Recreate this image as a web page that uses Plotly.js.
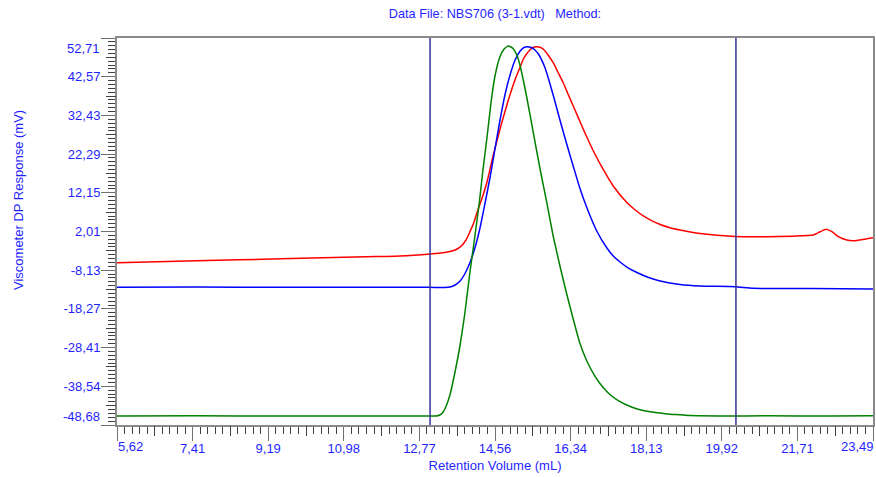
<!DOCTYPE html>
<html>
<head>
<meta charset="utf-8">
<script src="https://cdn.plot.ly/plotly-3.0.1.min.js"></script>
<style>html,body{margin:0;padding:0;background:#fff;}#chart{width:876px;height:477px;}</style>
</head>
<body>
<div id="chart"></div>
<script>
// ---- Data ----
const greenX = [5.62, 7.5, 9.5, 11.5, 13.0, 13.16, 13.25, 13.33, 13.41, 13.49, 13.61, 13.73, 13.84, 13.96, 14.08, 14.18, 14.27, 14.37, 14.46, 14.55, 14.67, 14.77, 14.87, 14.97, 15.08, 15.15, 15.30, 15.46, 15.62, 15.78, 15.93, 16.09, 16.25, 16.41, 16.56, 16.72, 16.92, 17.04, 17.16, 17.27, 17.51, 17.75, 17.98, 18.22, 18.62, 18.93, 19.17, 19.88, 21.0, 22.5, 23.49];
const greenY = [-46.30, -46.28, -46.32, -46.30, -46.32, -46.32, -46.06, -45.27, -43.44, -40.82, -34.79, -27.72, -19.60, -8.86, 0.84, 9.22, 18.13, 27.03, 35.68, 42.49, 47.73, 49.83, 50.61, 50.09, 47.99, 45.37, 37.51, 27.90, 18.39, 9.56, 0.84, -7.02, -14.36, -21.17, -27.20, -31.78, -35.95, -37.86, -39.43, -40.69, -42.58, -43.83, -44.67, -45.22, -45.77, -46.01, -46.22, -46.32, -46.28, -46.30, -46.28];

const blueX = [5.62, 7.5, 9.5, 11.5, 13.0, 13.37, 13.49, 13.61, 13.73, 13.84, 13.96, 14.08, 14.20, 14.32, 14.44, 14.55, 14.67, 14.79, 14.91, 15.03, 15.15, 15.24, 15.32, 15.41, 15.50, 15.58, 15.74, 15.93, 16.09, 16.25, 16.41, 16.56, 16.72, 16.96, 17.20, 17.35, 17.51, 17.70, 17.91, 18.17, 18.46, 18.93, 19.40, 20.23, 20.66, 22.0, 23.49];
const blueY = [-12.60, -12.55, -12.62, -12.58, -12.62, -12.66, -12.53, -12.00, -10.95, -9.12, -6.24, -2.31, 2.93, 9.48, 16.29, 23.37, 30.97, 37.78, 43.02, 46.95, 49.30, 50.22, 50.43, 50.22, 49.57, 48.52, 44.85, 37.78, 31.23, 24.94, 18.91, 13.41, 8.43, 2.15, -2.31, -4.40, -5.98, -7.50, -8.73, -9.98, -10.95, -11.87, -12.26, -12.45, -12.87, -12.95, -13.05];

const redX = [5.62, 7.5, 9.5, 11.5, 12.31, 13.02, 13.37, 13.54, 13.66, 13.77, 13.87, 13.96, 14.06, 14.15, 14.25, 14.36, 14.51, 14.67, 14.85, 15.03, 15.15, 15.22, 15.30, 15.38, 15.45, 15.54, 15.62, 15.70, 15.81, 15.93, 16.04, 16.17, 16.28, 16.41, 16.64, 16.88, 17.12, 17.35, 17.67, 17.87, 18.06, 18.22, 18.46, 18.69, 18.93, 19.40, 20.23, 20.98, 21.6, 22.08, 22.24, 22.38, 22.52, 22.67, 22.87, 23.03, 23.27, 23.49];
const redY = [-6.16, -5.66, -5.14, -4.60, -4.40, -3.88, -3.49, -3.09, -2.57, -1.65, -0.21, 1.88, 4.50, 7.65, 10.79, 14.72, 21.80, 28.74, 35.68, 41.84, 45.11, 47.08, 48.52, 49.57, 50.22, 50.43, 50.27, 49.75, 48.26, 46.24, 43.80, 40.92, 38.04, 34.76, 28.87, 23.11, 18.13, 13.94, 9.61, 7.65, 6.08, 5.08, 3.85, 3.01, 2.41, 1.49, 0.71, 0.65, 0.80, 1.10, 1.96, 2.59, 1.96, 0.65, -0.21, -0.40, -0.03, 0.39];

const markerLinesX = [13.02, 20.25];

const xTickVals = [5.62, 7.407, 9.194, 10.981, 12.768, 14.555, 16.342, 18.129, 19.916, 21.703, 23.49];
const xTickText = ['5,62', '7,41', '9,19', '10,98', '12,77', '14,56', '16,34', '18,13', '19,92', '21,71', '23,49'];
const yTickVals = [-48.68, -38.541, -28.402, -18.263, -8.124, 2.015, 12.154, 22.293, 32.432, 42.571, 52.71];
const yTickText = ['-48,68', '-38,54', '-28,41', '-18,27', '-8,13', '2,01', '12,15', '22,29', '32,43', '42,57', '52,71'];

const titleText = 'Data File: NBS706 (3-1.vdt)\u00a0\u00a0\u00a0Method:';
const xTitle = 'Retention Volume (mL)';
const yTitle = 'Viscometer DP Response (mV)';

// ---- Build chart ----
const blueTxt = '#1f1fff';
const FONT = 'Liberation Sans, Arial, sans-serif';
const xRange = [xTickVals[0], xTickVals[xTickVals.length - 1]];
const yRange = [yTickVals[0], yTickVals[yTickVals.length - 1]];
const xStep = (xRange[1] - xRange[0]) / 10;
const yStep = (yRange[1] - yRange[0]) / 10;
const mids = (vals) => vals.slice(0, -1).map((v, i) => (v + vals[i + 1]) / 2);

const lineStyle = (c) => ({color: c, width: 1.5, shape: 'spline', smoothing: 0.5});
const traces = [
  {x: redX, y: redY, type: 'scatter', mode: 'lines', line: lineStyle('#ff0000'), hoverinfo: 'skip'},
  {x: blueX, y: blueY, type: 'scatter', mode: 'lines', line: lineStyle('#0000ff'), hoverinfo: 'skip'},
  {x: greenX, y: greenY, type: 'scatter', mode: 'lines', line: lineStyle('#008000'), hoverinfo: 'skip'},
  {x: [], y: [], xaxis: 'x2', yaxis: 'y2', type: 'scatter', mode: 'lines', hoverinfo: 'skip', showlegend: false}
];

const innerText = (arr) => arr.map((t, i) => (i === 0 || i === arr.length - 1) ? '' : t);
const tickFont = {family: FONT, size: 13, color: blueTxt};

const layout = {
  width: 876, height: 477,
  margin: {l: 117, r: 3, t: 38, b: 52},
  paper_bgcolor: '#ffffff', plot_bgcolor: '#ffffff',
  showlegend: false,
  font: {family: FONT, size: 13, color: blueTxt},
  title: {text: titleText, font: {family: FONT, size: 12.7, color: blueTxt}, x: 0.5, xref: 'paper', xanchor: 'center', y: 1 - 14 / 477, yref: 'container', yanchor: 'middle'},
  xaxis: {
    range: xRange, tickmode: 'array', tickvals: xTickVals, ticktext: innerText(xTickText),
    ticks: 'outside', ticklen: 14, tickwidth: 1, tickcolor: '#707070', ticklabelstandoff: -4,
    showline: true, linecolor: '#8a8a8a', linewidth: 2, mirror: true,
    showgrid: false, zeroline: false, tickfont: tickFont,
    minor: {tickmode: 'linear', tick0: xRange[0], dtick: xStep / 10, ticks: 'outside', ticklen: 7, tickwidth: 1, tickcolor: '#404040', showgrid: false},
    title: {text: xTitle, font: {family: FONT, size: 13, color: blueTxt}, standoff: 6}
  },
  yaxis: {
    range: yRange, tickmode: 'array', tickvals: yTickVals, ticktext: innerText(yTickText),
    ticks: 'outside', ticklen: 14, tickwidth: 1, tickcolor: '#707070', ticklabelstandoff: -2,
    showline: true, linecolor: '#8a8a8a', linewidth: 2, mirror: true,
    showgrid: false, zeroline: false, tickfont: tickFont,
    minor: {tickmode: 'linear', tick0: yRange[0], dtick: yStep / 10, ticks: 'outside', ticklen: 7, tickwidth: 1, tickcolor: '#404040', showgrid: false}
  },
  xaxis2: {
    overlaying: 'x', anchor: 'y', side: 'bottom', range: xRange,
    tickmode: 'array', tickvals: mids(xTickVals), ticks: 'outside', ticklen: 10, tickwidth: 1, tickcolor: '#404040',
    showticklabels: false, showline: false, showgrid: false, zeroline: false
  },
  yaxis2: {
    overlaying: 'y', anchor: 'x', side: 'left', range: yRange,
    tickmode: 'array', tickvals: mids(yTickVals), ticks: 'outside', ticklen: 10, tickwidth: 1, tickcolor: '#404040',
    showticklabels: false, showline: false, showgrid: false, zeroline: false
  },
  shapes: markerLinesX.map((v) => ({type: 'line', xref: 'x', yref: 'paper', x0: v, x1: v, y0: 0, y1: 1, line: {color: '#333399', width: 1.5}})),
  annotations: [
    {text: yTitle, xref: 'paper', yref: 'paper', x: 0, xshift: -99, y: (477 - 52 - 200) / (477 - 90), yanchor: 'middle', xanchor: 'center', textangle: -90, showarrow: false, font: {family: FONT, size: 13, color: blueTxt}},
    {text: yTickText[yTickText.length - 1], xref: 'paper', yref: 'y', x: 0, xshift: -15, xanchor: 'right', y: yRange[1], yshift: -10, yanchor: 'middle', showarrow: false, font: tickFont},
    {text: yTickText[0], xref: 'paper', yref: 'y', x: 0, xshift: -15, xanchor: 'right', y: yRange[0], yshift: 9, yanchor: 'middle', showarrow: false, font: tickFont},
    {text: xTickText[0], xref: 'x', yref: 'paper', x: xRange[0], xshift: 13, xanchor: 'center', y: 0, yshift: -12, yanchor: 'top', showarrow: false, font: tickFont},
    {text: xTickText[xTickText.length - 1], xref: 'x', yref: 'paper', x: xRange[1], xshift: -16, xanchor: 'center', y: 0, yshift: -12, yanchor: 'top', showarrow: false, font: tickFont}
  ]
};

Plotly.newPlot('chart', traces, layout, {displayModeBar: false, staticPlot: true});
</script>
</body>
</html>
